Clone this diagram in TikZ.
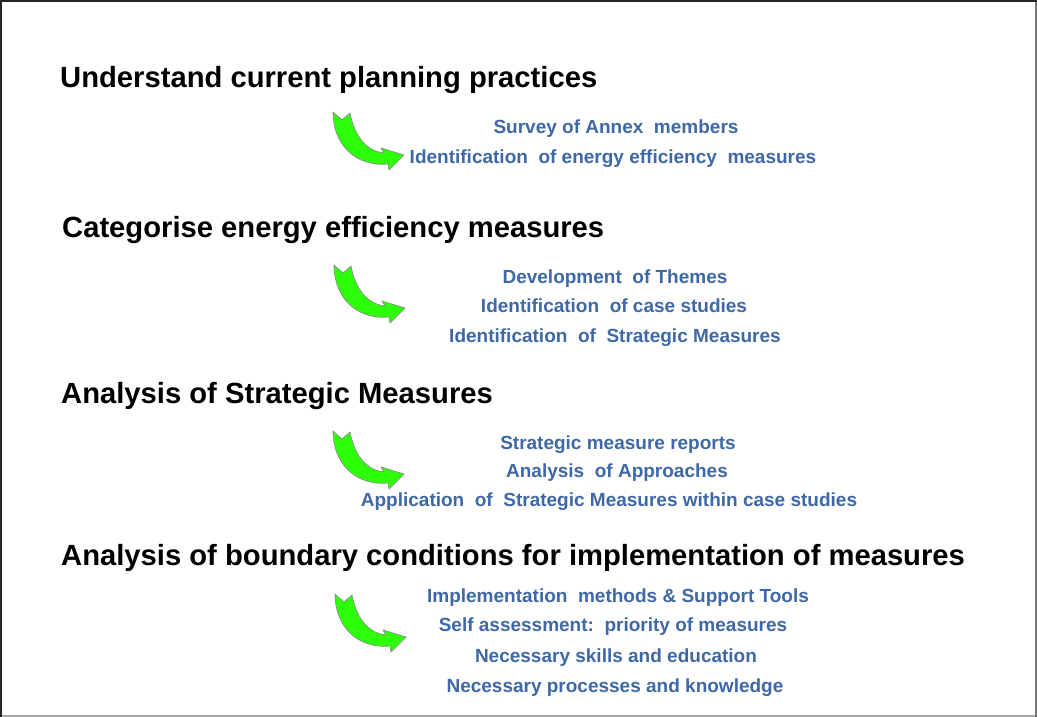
\documentclass[tikz,border=0pt]{standalone}
\usepackage{fontspec}
\setmainfont{Liberation Sans}
\definecolor{itemblue}{RGB}{62,104,166}
\definecolor{arrowgreen}{RGB}{45,255,10}
\tikzset{
  heading/.style={anchor=base west, inner sep=0pt, font=\fontsize{29.2}{31}\selectfont\bfseries, text=black},
  item/.style={anchor=base, inner sep=0pt, font=\fontsize{19}{21}\selectfont\bfseries, text=itemblue},
  curvedarrow/.style={fill=arrowgreen, draw=black!45, line width=0.7pt, line join=round}
}
\newcommand{\greenarrow}[1]{%
  \draw[curvedarrow, shift={#1}] (0,0) -- (9,8) -- (17,1)
    .. controls (21,22) and (32,39) .. (51,41)
    -- (48,36) -- (71,43) -- (56,58) -- (55,52)
    .. controls (22,55) and (0,32) .. (0,0) -- cycle;}
\begin{document}
\begin{tikzpicture}[x=1pt,y=-1pt]
\useasboundingbox (0,0) rectangle (1037,717);
\fill[white] (0,0) rectangle (1037,717);
% frame
\draw[black!35, line width=2pt] (0,716) -- (1037,716);
\draw[black!55, line width=2pt] (1036,0) -- (1036,717);
\draw[black!85, line width=2pt] (0,1) -- (1037,1);
\draw[black!85, line width=2pt] (1,0) -- (1,717);

% section 1
\node[heading] (h1) at (60,88) {Understand current planning practices};
\greenarrow{(333,112)}
\node[item] (i11) at (616,133) {Survey of Annex\ \ members};
\node[item] (i12) at (613,163) {Identification\ \ of energy efficiency\ \ measures};

% section 2
\node[heading] (h2) at (62,237) {Categorise energy efficiency measures};
\greenarrow{(334,265)}
\node[item] (i21) at (615,283) {Development\ \ of Themes};
\node[item] (i22) at (614,312) {Identification\ \ of case studies};
\node[item] (i23) at (615,342) {Identification\ \ of\ \ Strategic Measures};

% section 3
\node[heading] (h3) at (61,403) {Analysis of Strategic Measures};
\greenarrow{(333,431)}
\node[item] (i31) at (618,449) {Strategic measure reports};
\node[item] (i32) at (617,477) {Analysis\ \ of Approaches};
\node[item] (i33) at (609,506) {Application\ \ of\ \ Strategic Measures within case studies};

% section 4
\node[heading] (h4) at (61,565) {Analysis of boundary conditions for implementation of measures};
\greenarrow{(335,594)}
\node[item] (i41) at (618,602) {Implementation\ \ methods \& Support Tools};
\node[item] (i42) at (613,631) {Self assessment:\ \ priority of measures};
\node[item] (i43) at (616,662) {Necessary skills and education};
\node[item] (i44) at (615,692) {Necessary processes and knowledge};
\end{tikzpicture}
\end{document}
